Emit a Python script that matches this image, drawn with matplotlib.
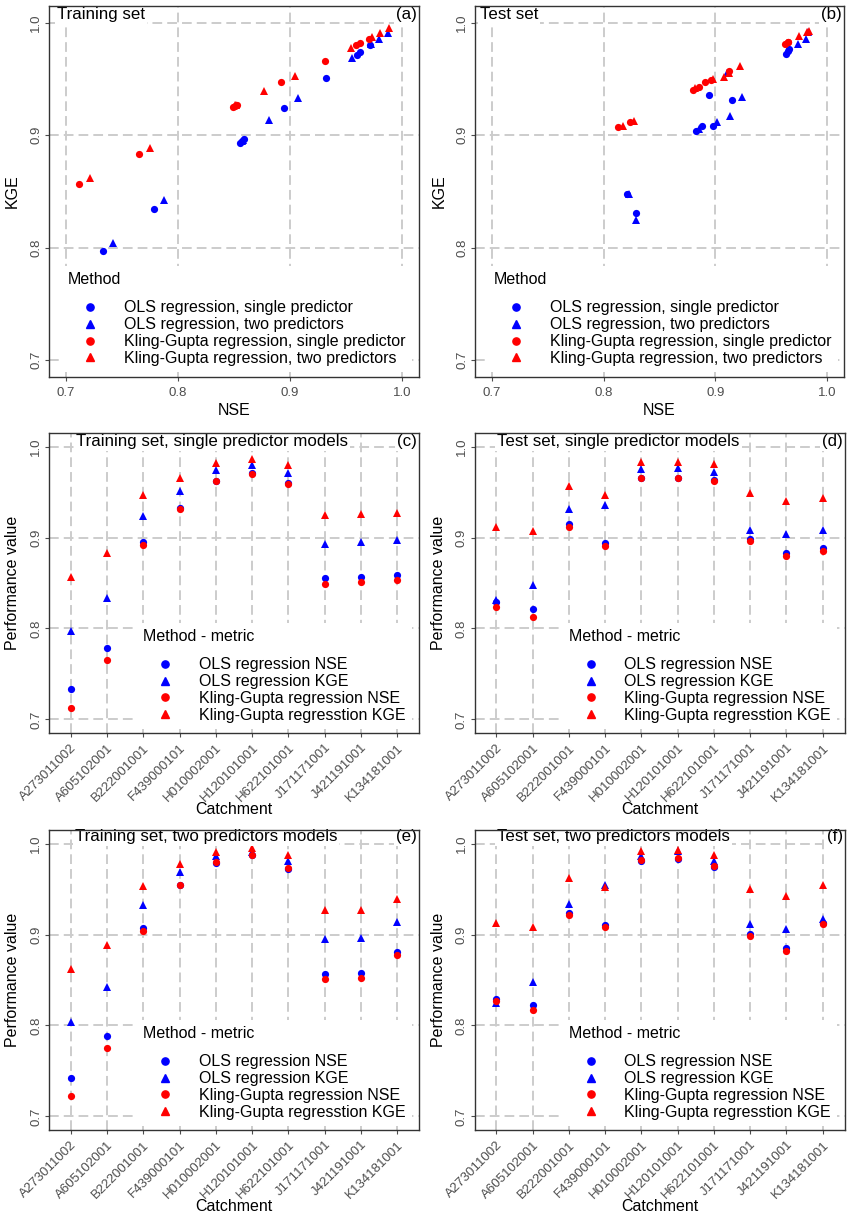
import matplotlib
matplotlib.use('Agg')
import matplotlib.pyplot as plt
from matplotlib.lines import Line2D

plt.rcParams['font.family'] = ['Liberation Sans', 'DejaVu Sans']

# ---------------- data ----------------
catchments = ['A273011002', 'A605102001', 'B222001001', 'F439000101', 'H010002001',
              'H120101001', 'H622101001', 'J171171001', 'J421191001', 'K134181001']

# training set, single predictor
ols_nse_tr1 = [0.733, 0.779, 0.895, 0.932, 0.962, 0.971, 0.960, 0.855, 0.857, 0.859]
ols_kge_tr1 = [0.797, 0.834, 0.924, 0.951, 0.974, 0.980, 0.971, 0.893, 0.895, 0.897]
kg_nse_tr1 = [0.712, 0.765, 0.892, 0.931, 0.962, 0.970, 0.959, 0.849, 0.851, 0.853]
kg_kge_tr1 = [0.857, 0.883, 0.947, 0.966, 0.982, 0.986, 0.980, 0.925, 0.926, 0.927]

# test set, single predictor
ols_nse_te1 = [0.829, 0.821, 0.915, 0.894, 0.965, 0.966, 0.963, 0.898, 0.883, 0.888]
ols_kge_te1 = [0.831, 0.848, 0.931, 0.936, 0.975, 0.977, 0.972, 0.908, 0.904, 0.908]
kg_nse_te1 = [0.824, 0.813, 0.912, 0.891, 0.965, 0.965, 0.962, 0.896, 0.880, 0.885]
kg_kge_te1 = [0.912, 0.907, 0.957, 0.947, 0.983, 0.983, 0.981, 0.949, 0.940, 0.943]

# training set, two predictors
ols_nse_tr2 = [0.742, 0.788, 0.907, 0.955, 0.979, 0.987, 0.972, 0.857, 0.858, 0.881]
ols_kge_tr2 = [0.804, 0.842, 0.933, 0.969, 0.986, 0.991, 0.981, 0.895, 0.896, 0.914]
kg_nse_tr2 = [0.722, 0.775, 0.904, 0.954, 0.980, 0.988, 0.973, 0.851, 0.852, 0.877]
kg_kge_tr2 = [0.862, 0.889, 0.953, 0.978, 0.991, 0.995, 0.987, 0.927, 0.927, 0.939]

# test set, two predictors
ols_nse_te2 = [0.829, 0.823, 0.924, 0.910, 0.981, 0.983, 0.974, 0.901, 0.885, 0.913]
ols_kge_te2 = [0.825, 0.848, 0.934, 0.955, 0.986, 0.992, 0.981, 0.912, 0.906, 0.917]
kg_nse_te2 = [0.827, 0.817, 0.922, 0.908, 0.982, 0.984, 0.975, 0.898, 0.882, 0.912]
kg_kge_te2 = [0.913, 0.908, 0.962, 0.952, 0.992, 0.993, 0.988, 0.950, 0.942, 0.955]

perf_ticks = [0.7, 0.8, 0.9, 1.0]
perf_tick_labels = ['0.7', '0.8', '0.9', '1.0']

scatter_legend = ['OLS regression, single predictor', 'OLS regression, two predictors',
                  'Kling-Gupta regression, single predictor', 'Kling-Gupta regression, two predictors']
metric_legend = ['OLS regression NSE', 'OLS regression KGE',
                 'Kling-Gupta regression NSE', 'Kling-Gupta regresstion KGE']

# ---------------- styling ----------------
W, H = 852, 1218
fig = plt.figure(figsize=(W / 100, H / 100), dpi=100)

GRID = '#CCCCCC'
TICKC = '#4D4D4D'
BORDER = '#333333'
BLUE = '#0000FF'
RED = '#FF0000'
CIRC = 5.2
TRI = 5.8
FS_LAB = 11.5
FS_TICK = 9.5
FS_TITLE = 12.2


def px_axes(left, top, right, bottom):
    return fig.add_axes([left / W, 1 - bottom / H, (right - left) / W, (bottom - top) / H])


def style(ax):
    ax.set_facecolor('white')
    for s in ax.spines.values():
        s.set_color(BORDER)
        s.set_linewidth(1.0)
        s.set_zorder(6)
    ax.tick_params(length=2.8, width=0.8, color=TICKC, labelcolor=TICKC,
                   labelsize=FS_TICK, pad=2.2)
    ax.grid(True, color=GRID, linestyle=(0, (5, 2.6)), linewidth=1.4)
    ax.set_axisbelow(True)
    ax.set_ylim(0.685, 1.015)
    ax.set_yticks(perf_ticks)
    ax.set_yticklabels(perf_tick_labels, rotation=90, va='center')


def panel_text(ax, title, tag, tx, ty):
    bb = dict(facecolor='white', edgecolor='none', pad=1.5)
    ax.text(tx, ty, title, transform=ax.transAxes, ha='left', va='center',
            fontsize=FS_TITLE, color='black', bbox=bb, zorder=4)
    ax.text(0.995, ty, tag, transform=ax.transAxes, ha='right', va='center',
            fontsize=FS_TITLE, color='black', bbox=bb, zorder=4)


def add_legend(ax, labels, title, anchor):
    handles = [Line2D([], [], marker='o', color=BLUE, ls='None', ms=CIRC),
               Line2D([], [], marker='^', color=BLUE, ls='None', ms=TRI),
               Line2D([], [], marker='o', color=RED, ls='None', ms=CIRC),
               Line2D([], [], marker='^', color=RED, ls='None', ms=TRI)]
    leg = ax.legend(handles, labels, title=title, loc='upper left', bbox_to_anchor=anchor,
                    borderaxespad=0, frameon=True, fancybox=False, edgecolor='none',
                    facecolor='white', framealpha=1, fontsize=FS_LAB, title_fontsize=FS_LAB,
                    handlelength=2.8, handletextpad=0.7, labelspacing=0.12, borderpad=0.4,
                    alignment='left')
    leg._legend_box.sep = 9.5
    return leg


def scatter_panel(ax, series, title, tag, title_x):
    style(ax)
    ax.tick_params(axis='x', pad=4.5)
    markers = ['o', '^', 'o', '^']
    colors = [BLUE, BLUE, RED, RED]
    for (xs, ys), m, c in zip(series, markers, colors):
        ax.plot(xs, ys, ls='None', marker=m, color=c, ms=CIRC if m == 'o' else TRI,
                markeredgewidth=0, zorder=3)
    ax.set_xlim(0.685, 1.015)
    ax.set_xticks(perf_ticks)
    ax.set_xticklabels(perf_tick_labels)
    ax.set_xlabel('NSE', fontsize=FS_LAB)
    ax.set_ylabel('KGE', fontsize=FS_LAB)
    ax.xaxis.set_label_coords(0.5, -0.090)
    ax.xaxis.label.set_va('center')
    ax.yaxis.set_label_coords(-0.098, 0.5)
    ax.yaxis.label.set_va('center')
    panel_text(ax, title, tag, title_x, 0.976)
    add_legend(ax, scatter_legend, 'Method', (0.034, 0.300))


def cat_panel(ax, ols_nse, ols_kge, kg_nse, kg_kge, title, tag, title_x, title_y):
    style(ax)
    ax.tick_params(axis='x', pad=3.5)
    xs = list(range(1, len(catchments) + 1))
    for vals, m, c in [(ols_nse, 'o', BLUE), (ols_kge, '^', BLUE),
                       (kg_nse, 'o', RED), (kg_kge, '^', RED)]:
        ax.plot(xs, vals, ls='None', marker=m, color=c, ms=CIRC if m == 'o' else TRI,
                markeredgewidth=0, zorder=3)
    ax.set_xlim(0.4, len(catchments) + 0.6)
    ax.set_xticks(xs)
    ax.set_xticklabels(catchments, rotation=45, ha='right', va='top', rotation_mode='anchor')
    ax.set_xlabel('Catchment', fontsize=FS_LAB)
    ax.set_ylabel('Performance value', fontsize=FS_LAB)
    ax.xaxis.set_label_coords(0.5, -0.255)
    ax.xaxis.label.set_va('center')
    ax.yaxis.set_label_coords(-0.098, 0.5)
    ax.yaxis.label.set_va('center')
    panel_text(ax, title, tag, title_x, title_y)
    add_legend(ax, metric_legend, 'Method - metric', (0.237, 0.368))


ax_a = px_axes(49, 6, 419, 377)
scatter_panel(ax_a, [(ols_nse_tr1, ols_kge_tr1), (ols_nse_tr2, ols_kge_tr2),
                     (kg_nse_tr1, kg_kge_tr1), (kg_nse_tr2, kg_kge_tr2)],
              'Training set', '(a)', 0.022)

ax_b = px_axes(475, 6, 844, 377)
scatter_panel(ax_b, [(ols_nse_te1, ols_kge_te1), (ols_nse_te2, ols_kge_te2),
                     (kg_nse_te1, kg_kge_te1), (kg_nse_te2, kg_kge_te2)],
              'Test set', '(b)', 0.013)

ax_c = px_axes(49, 433, 419, 733)
cat_panel(ax_c, ols_nse_tr1, ols_kge_tr1, kg_nse_tr1, kg_kge_tr1,
          'Training set, single predictor models', '(c)', 0.072, 0.972)

ax_d = px_axes(474.5, 433, 844.5, 733)
cat_panel(ax_d, ols_nse_te1, ols_kge_te1, kg_nse_te1, kg_kge_te1,
          'Test set, single predictor models', '(d)', 0.062, 0.972)

ax_e = px_axes(49, 830, 419, 1130)
cat_panel(ax_e, ols_nse_tr2, ols_kge_tr2, kg_nse_tr2, kg_kge_tr2,
          'Training set, two predictors models', '(e)', 0.070, 0.977)

ax_f = px_axes(474.5, 830, 844.5, 1130)
cat_panel(ax_f, ols_nse_te2, ols_kge_te2, kg_nse_te2, kg_kge_te2,
          'Test set, two predictors models', '(f)', 0.062, 0.977)

fig.savefig('out.png', dpi=100, facecolor='white')
